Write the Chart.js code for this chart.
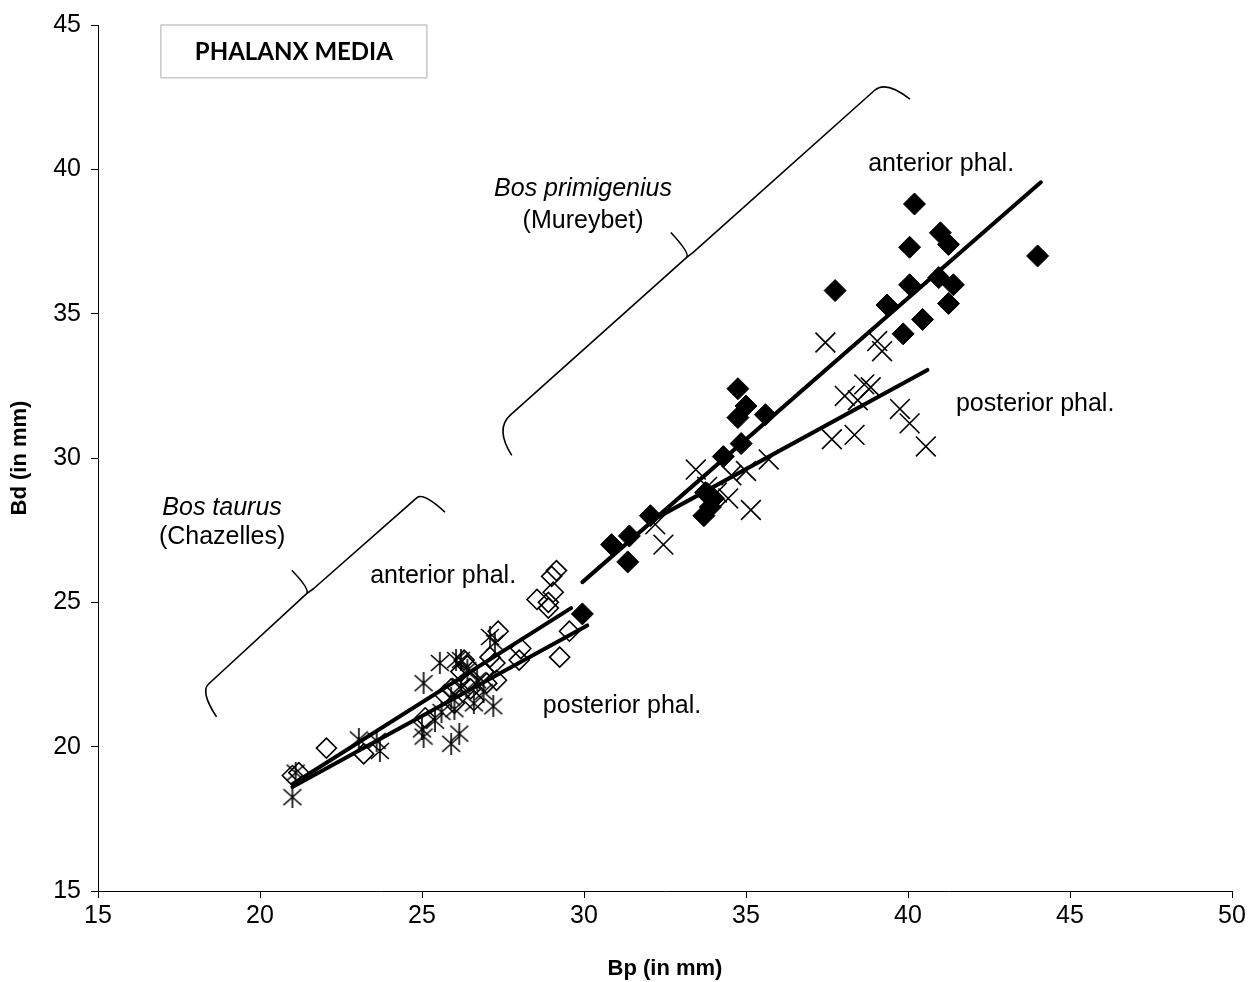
<!DOCTYPE html>
<html>
<head>
<meta charset="utf-8">
<script src="https://cdn.jsdelivr.net/npm/chart.js@4"></script>
<style>
  html, body { margin: 0; padding: 0; background: #fff; }
  #wrap { width: 1250px; height: 982px; position: relative; }
</style>
</head>
<body>
<div id="wrap"><canvas id="chart"></canvas></div>
<script>
// Phalanx media: Bp vs Bd, Bos taurus (Chazelles) vs Bos primigenius (Mureybet)

// ─── Data ────────────────────────────────────────────────────────────────────

// Bos primigenius, anterior phal. (filled diamonds)
const primAntBp = [40.2, 41.0, 41.25, 40.05, 44.0, 40.05, 40.95, 41.4, 39.35, 41.25, 40.45, 39.85, 37.75,
  34.75, 35.0, 34.75, 35.6, 34.85, 34.3, 33.75, 34.0, 33.7, 33.9, 32.05, 31.4, 30.85, 31.35, 29.95];
const primAntBd = [38.8, 37.8, 37.4, 37.3, 37.0, 36.0, 36.25, 36.0, 35.3, 35.35, 34.8, 34.3, 35.8,
  32.4, 31.8, 31.4, 31.5, 30.5, 30.05, 28.8, 28.6, 28.0, 28.3, 28.0, 27.3, 27.0, 26.4, 24.6];

// Bos primigenius, posterior phal. (crosses)
const primPostBp = [37.45, 39.05, 39.2, 38.05, 38.65, 38.45, 38.85, 39.75, 40.05, 40.55, 37.65, 38.35,
  35.7, 35.0, 34.55, 34.45, 35.15, 33.45, 33.8, 34.1, 32.45, 32.2];
const primPostBd = [34.0, 34.05, 33.7, 32.15, 32.55, 32.0, 32.45, 31.7, 31.2, 30.4, 30.65, 30.8,
  29.95, 29.55, 29.4, 28.6, 28.2, 29.6, 29.0, 28.8, 27.0, 27.7];

// Bos taurus, anterior phal. (open diamonds)
const taurAntBp = [29.15, 29.0, 29.05, 28.55, 28.9, 28.9, 29.55, 29.25, 27.35, 28.05, 28.0, 27.1, 27.3,
  26.3, 26.2, 26.45, 27.0, 26.9, 26.6, 25.7, 26.0, 25.1, 26.5, 25.9, 23.2, 22.05, 21.0, 21.2, 26.4, 27.25];
const taurAntBd = [26.1, 25.9, 25.35, 25.1, 25.0, 24.8, 24.0, 23.1, 24.0, 23.4, 23.0, 23.1, 22.3,
  23.0, 22.6, 22.3, 22.2, 22.6, 21.6, 21.8, 21.5, 21.0, 22.0, 22.0, 19.75, 19.95, 19.0, 19.1, 22.8, 22.9];

// Bos taurus, posterior phal. (stars)
const taurPostBp = [21.0, 21.1, 23.05, 23.6, 23.7, 25.05, 25.0, 25.05, 25.55, 26.05, 26.2, 25.9, 26.15,
  25.4, 25.6, 26.4, 26.2, 25.9, 26.6, 26.9, 27.2, 27.1, 27.25, 26.7, 26.0];
const taurPostBd = [18.25, 19.1, 20.25, 20.2, 19.85, 22.2, 20.6, 20.35, 22.9, 23.0, 23.0, 20.1, 20.45,
  20.9, 21.2, 22.65, 22.1, 21.7, 21.5, 21.9, 21.4, 23.8, 23.6, 22.3, 21.3];

// Trend lines (end points)
const primAntLineBp = [29.95, 44.1];
const primAntLineBd = [25.7, 39.55];
const primPostLineBp = [32.2, 40.6];
const primPostLineBd = [27.9, 33.05];
const taurAntLineBp = [21.0, 29.6];
const taurAntLineBd = [18.7, 24.8];
const taurPostLineBp = [21.0, 30.1];
const taurPostLineBd = [18.6, 24.2];

// Axis ranges / ticks
const xRange = [15, 50];
const yRange = [15, 45];
const tickStep = 5;

// ─── Helpers ─────────────────────────────────────────────────────────────────

const FONT = "'Liberation Sans', Arial, sans-serif";
const pts = (xs, ys) => xs.map((x, i) => ({ x, y: ys[i] }));

// Excel-like star marker: an X with a vertical bar
function starMarker() {
  const c = document.createElement('canvas');
  c.width = 22; c.height = 22;
  const g = c.getContext('2d');
  g.strokeStyle = '#000';
  g.lineWidth = 1.6;
  g.beginPath();
  g.moveTo(2, 3); g.lineTo(20, 19);
  g.moveTo(20, 3); g.lineTo(2, 19);
  g.moveTo(11, 0); g.lineTo(11, 22);
  g.stroke();
  return c;
}

function trend(xs, ys) {
  return {
    type: 'line',
    data: pts(xs, ys),
    borderColor: '#000',
    borderWidth: 4,
    borderCapStyle: 'round',
    pointRadius: 0,
    showLine: true,
    fill: false,
    order: 0,
  };
}

// ─── Annotations (braces, labels, title box) ─────────────────────────────────

const braceTaurus = [[18.66, 21.03], [18.15, 21.9], [21.44, 25.3], [20.98, 26.11], [21.65, 25.47], [25.04, 28.82], [25.71, 28.12]];
const bracePrim   = [[27.77, 30.09], [27.25, 31.01], [33.17, 36.95], [32.68, 37.81], [33.37, 37.12], [39.32, 43.09], [40.06, 42.43]];

const labels = [
  { text: 'Bos taurus', x: 18.83, y: 28.25, italic: true, align: 'center' },
  { text: '(Chazelles)', x: 18.83, y: 27.25, align: 'center' },
  { text: 'Bos primigenius', x: 29.97, y: 39.33, italic: true, align: 'center' },
  { text: '(Mureybet)', x: 29.97, y: 38.22, align: 'center' },
  { text: 'anterior phal.', x: 23.4, y: 25.9, align: 'left' },
  { text: 'posterior phal.', x: 28.73, y: 21.4, align: 'left' },
  { text: 'anterior phal.', x: 38.77, y: 40.19, align: 'left' },
  { text: 'posterior phal.', x: 41.48, y: 31.85, align: 'left' },
];

const annotations = {
  id: 'annotations',
  afterDatasetsDraw(chart) {
    const { ctx, scales: { x, y } } = chart;
    const P = (p) => [x.getPixelForValue(p[0]), y.getPixelForValue(p[1])];

    ctx.save();
    ctx.strokeStyle = '#000';
    ctx.lineWidth = 1.6;
    ctx.lineJoin = 'round';
    [braceTaurus, bracePrim].forEach((b) => {
      const q = b.map(P);
      ctx.beginPath();
      ctx.moveTo(q[0][0], q[0][1]);
      ctx.quadraticCurveTo(q[1][0], q[1][1], q[1][0] + (q[2][0] - q[1][0]) * 0.08, q[1][1] + (q[2][1] - q[1][1]) * 0.08);
      ctx.lineTo(q[2][0], q[2][1]);
      ctx.quadraticCurveTo((q[2][0] + q[4][0]) / 2, (q[2][1] + q[4][1]) / 2 - 2, q[3][0], q[3][1]);
      ctx.moveTo(q[2][0], q[2][1]);
      ctx.lineTo(q[4][0], q[4][1]);
      ctx.lineTo(q[5][0] - (q[5][0] - q[4][0]) * 0.06, q[5][1] - (q[5][1] - q[4][1]) * 0.06);
      ctx.quadraticCurveTo(q[5][0], q[5][1], q[6][0], q[6][1]);
      ctx.stroke();
    });

    ctx.fillStyle = '#000';
    ctx.textBaseline = 'middle';
    labels.forEach((l) => {
      const [px, py] = P([l.x, l.y]);
      ctx.font = `${l.italic ? 'italic ' : ''}25px ${FONT}`;
      ctx.textAlign = l.align;
      ctx.fillText(l.text, px, py);
    });

    // Title box
    const [bx0, by0] = P([16.94, 45.0]);
    const [bx1, by1] = P([25.15, 43.17]);
    ctx.fillStyle = '#fff';
    ctx.fillRect(bx0, by0, bx1 - bx0, by1 - by0);
    ctx.strokeStyle = '#c8c8c8';
    ctx.lineWidth = 1.5;
    ctx.strokeRect(bx0, by0, bx1 - bx0, by1 - by0);
    ctx.fillStyle = '#000';
    ctx.textAlign = 'center';
    ctx.font = "bold 24px Lato, 'Open Sans', sans-serif";
    ctx.fillText('PHALANX MEDIA', (bx0 + bx1) / 2, (by0 + by1) / 2 + 1);
    ctx.restore();
  },
};

// ─── Chart ───────────────────────────────────────────────────────────────────

const axisCommon = {
  type: 'linear',
  grid: { display: true, drawOnChartArea: false, drawTicks: true, tickLength: 7, color: '#000', lineWidth: 1 },
  border: { display: true, color: '#000', width: 1 },
};

new Chart(document.getElementById('chart'), {
  type: 'scatter',
  data: {
    datasets: [
      trend(primAntLineBp, primAntLineBd),
      trend(primPostLineBp, primPostLineBd),
      trend(taurAntLineBp, taurAntLineBd),
      trend(taurPostLineBp, taurPostLineBd),
      {
        label: 'B. primigenius anterior',
        data: pts(primAntBp, primAntBd),
        pointStyle: 'rectRot', pointRadius: 11,
        backgroundColor: '#000', borderColor: '#000', borderWidth: 1, order: 1,
      },
      {
        label: 'B. primigenius posterior',
        data: pts(primPostBp, primPostBd),
        pointStyle: 'crossRot', pointRadius: 14,
        borderColor: '#000', borderWidth: 1.6, order: 1,
      },
      {
        label: 'B. taurus anterior',
        data: pts(taurAntBp, taurAntBd),
        pointStyle: 'rectRot', pointRadius: 10,
        backgroundColor: 'rgba(0,0,0,0)', borderColor: '#000', borderWidth: 1.6, order: 1,
      },
      {
        label: 'B. taurus posterior',
        data: pts(taurPostBp, taurPostBd),
        pointStyle: starMarker(),
        borderColor: '#000', order: 1,
      },
    ],
  },
  options: {
    responsive: true,
    maintainAspectRatio: false,
    animation: false,
    layout: { padding: { top: 24, right: 18, left: 0, bottom: 0 } },
    plugins: { legend: { display: false }, tooltip: { enabled: false } },
    scales: {
      x: {
        ...axisCommon,
        min: xRange[0], max: xRange[1],
        ticks: { stepSize: tickStep, color: '#000', font: { family: FONT, size: 25 }, padding: 3, maxRotation: 0 },
        title: { display: true, text: 'Bp (in mm)', color: '#000', font: { family: FONT, size: 22, weight: 'bold' }, padding: { top: 4, bottom: 0 } },
        afterFit(s) { s.height = 91; },
      },
      y: {
        ...axisCommon,
        min: yRange[0], max: yRange[1],
        ticks: { stepSize: tickStep, color: '#000', font: { family: FONT, size: 25 }, padding: 10 },
        title: { display: true, text: 'Bd (in mm)', color: '#000', font: { family: FONT, size: 22, weight: 'bold' }, padding: { top: 7, bottom: 4 } },
        afterFit(s) { s.width = 98; },
      },
    },
  },
  plugins: [annotations],
});
</script>
</body>
</html>
